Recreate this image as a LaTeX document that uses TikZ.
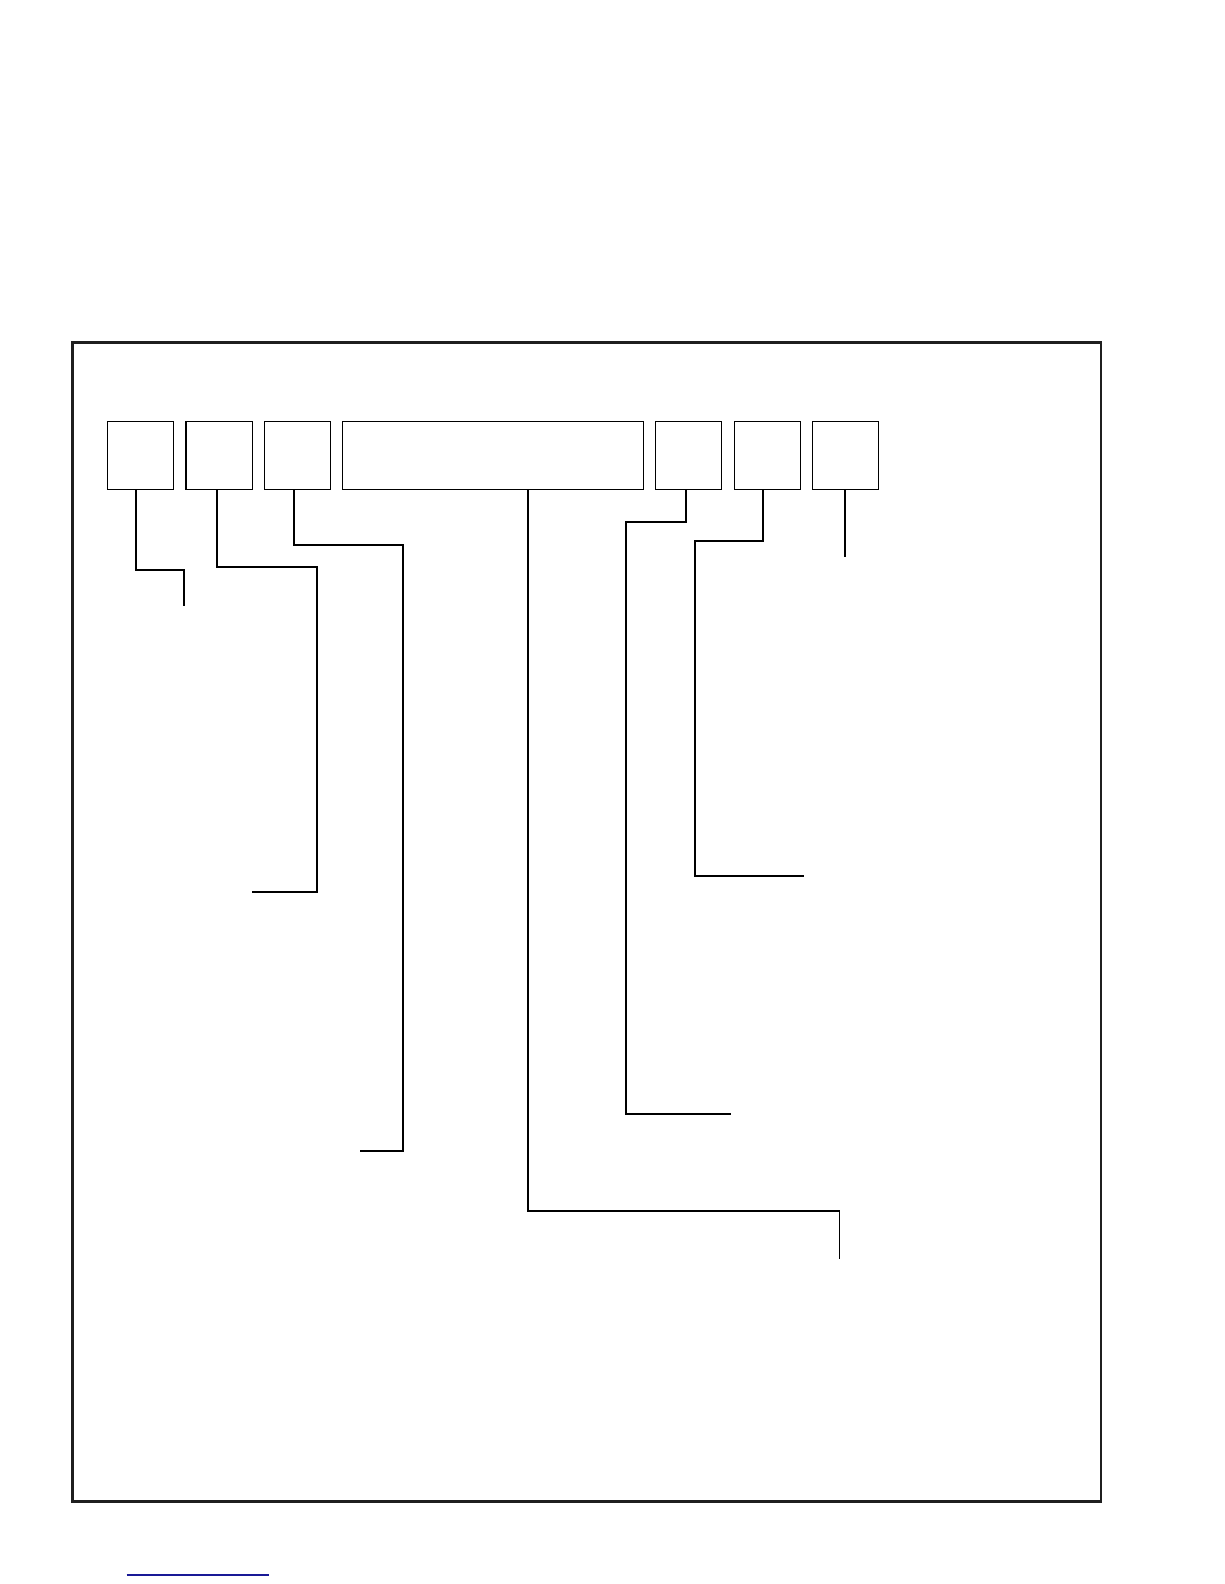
\documentclass[tikz,border=0pt]{standalone}
\begin{document}
\begin{tikzpicture}[x=1pt,y=-1pt,
  cell/.style={draw,line width=1.5pt,minimum height=67.6pt,inner sep=0pt},
  lead/.style={line width=1.7pt},
  frame/.style={line width=2.5pt,color=black!88},
  link/.style={line width=1.6pt,color={rgb,255:red,25;green,25;blue,150}}]
\useasboundingbox (0,0) rectangle (1224,1584);
\draw[frame] (72.7,342.7) rectangle (1101,1501.7);
% code boxes
\node[cell,minimum width=65.6pt] (b1) at (140.5,455.5) {};
\node[cell,minimum width=66.3pt] (b2) at (219.2,455.5) {};
\node[cell,minimum width=66pt] (b3) at (297.3,455.5) {};
\node[cell,minimum width=300.6pt] (b4) at (493,455.5) {};
\node[cell,minimum width=66pt] (b5) at (688.3,455.5) {};
\node[cell,minimum width=66pt] (b6) at (767.3,455.5) {};
\node[cell,minimum width=66pt] (b7) at (845.3,455.5) {};
% free ends of the leaders
\coordinate (e1) at (184.3,605.7);
\coordinate (e2) at (252,892.3);
\coordinate (e3) at (360,1151);
\coordinate (e4) at (839.5,1259);
\coordinate (e5) at (730.7,1114);
\coordinate (e6) at (803.7,876);
\coordinate (e7) at (845,557.3);
\draw[lead] (b1.south -| 136,0) |- (184.3,570) -- (e1);
\draw[lead] (b2.south -| 217.3,0) |- (317.3,567.3) |- (e2);
\draw[lead] (b3.south -| 294.3,0) |- (403,544.7) |- (e3);
\draw[lead] (b4.south -| 528,0) |- (839.5,1211) -- (e4);
\draw[lead] (b5.south -| 685.7,0) |- (626,522.3) |- (e5);
\draw[lead] (b6.south -| 763.3,0) |- (695,541) |- (e6);
\draw[lead] (b7.south -| 845,0) -- (e7);
\draw[link] (126.7,1575) -- (269,1575);
\end{tikzpicture}
\end{document}
